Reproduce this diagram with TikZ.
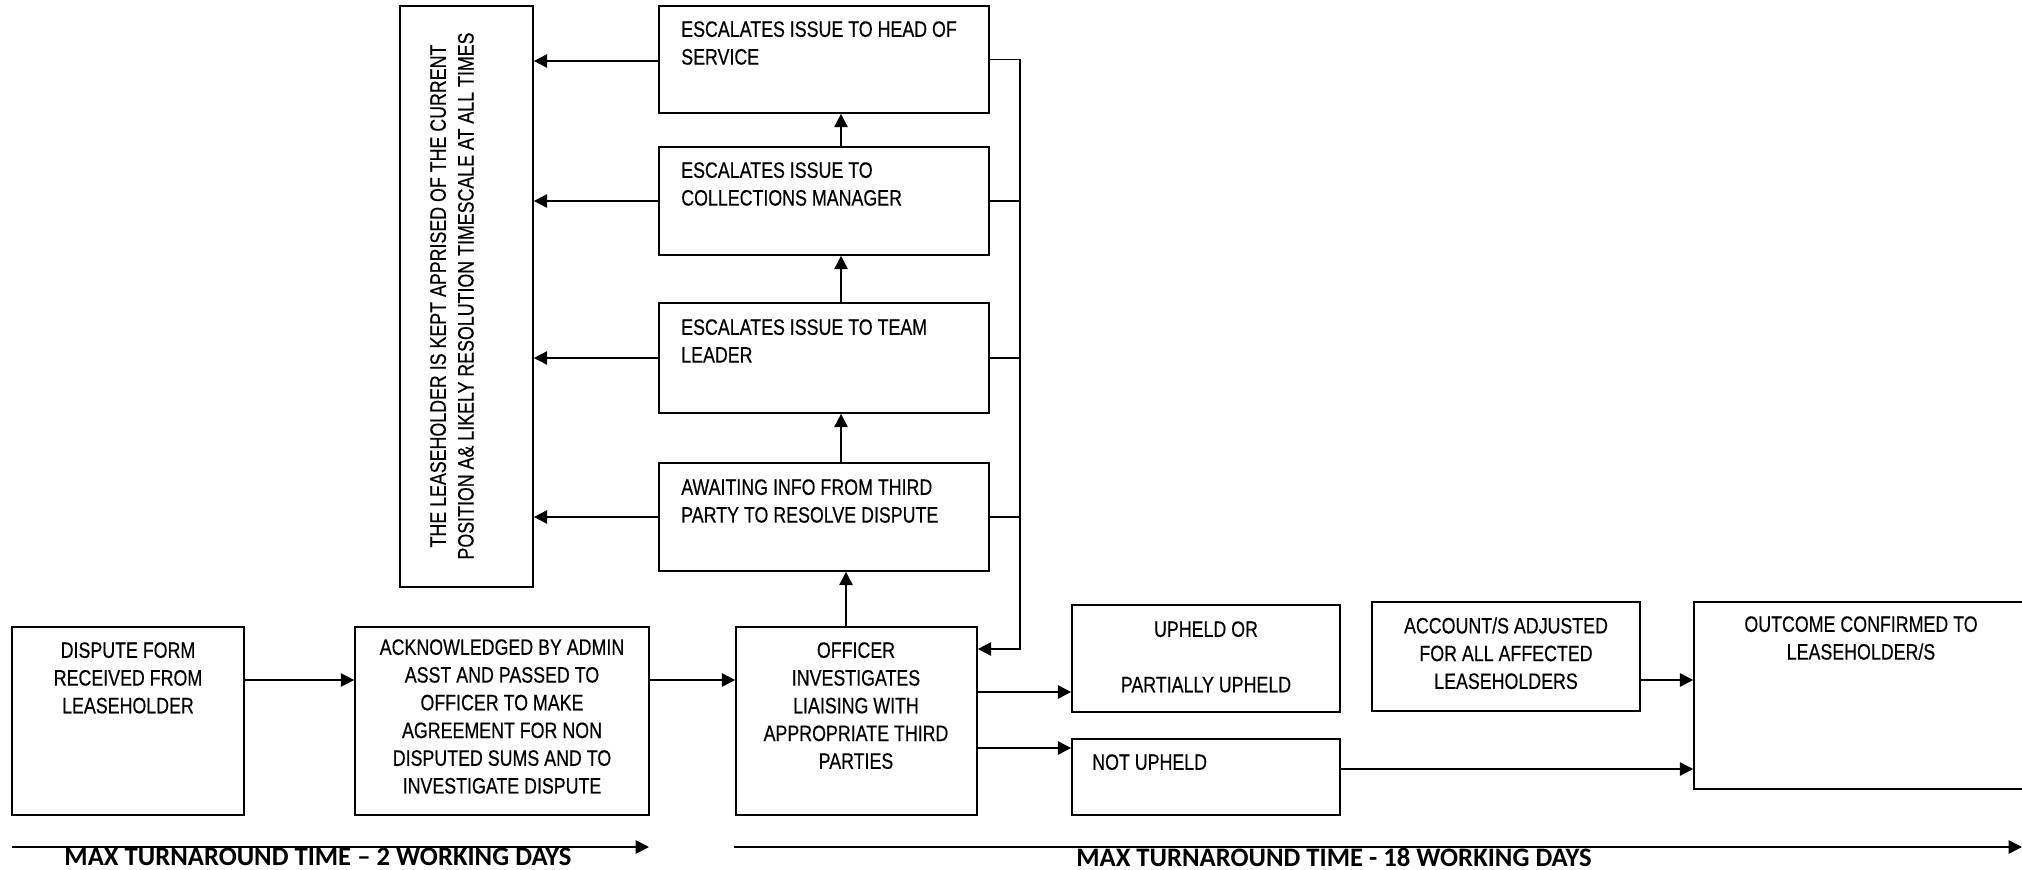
\documentclass[tikz,border=0pt]{standalone}
\usepackage{fontspec}
\setmainfont[FakeStretch=0.8,FakeBold=0.4]{Liberation Sans}
\newfontfamily\tlfont{Carlito}
\usetikzlibrary{arrows.meta,fit,calc}
\tikzset{
  box/.style={draw, line width=1.2pt, inner sep=0pt, fill=white},
  txt/.style={inner sep=0pt, font=\fontsize{16.7pt}{20.8pt}\selectfont, align=center},
  ltxt/.style={inner sep=0pt, font=\fontsize{16.7pt}{20.8pt}\selectfont, align=left},
  arr/.style={line width=1.2pt, -{Triangle[length=10pt,width=10pt]}},
  ln/.style={line width=1.2pt},
  tl/.style={inner sep=0pt, font=\tlfont\bfseries\fontsize{20pt}{24pt}\selectfont}
}
\begin{document}
\begin{tikzpicture}[x=0.75pt,y=-0.75pt]
\useasboundingbox (0,0) rectangle (2022,870);
\clip (0,0) rectangle (2022,870);
% boxes
\node[box, fit={(400,6) (533,587)}] (tall) {};
\node[box, fit={(659,6) (989,113)}] (head) {};
\node[box, fit={(659,147) (989,255)}] (coll) {};
\node[box, fit={(659,303) (989,413)}] (team) {};
\node[box, fit={(659,463) (989,571)}] (await) {};
\node[box, fit={(12,627) (244,815)}] (dispute) {};
\node[box, fit={(355,627) (649,815)}] (ack) {};
\node[box, fit={(736,627) (977,815)}] (officer) {};
\node[box, fit={(1072,605) (1340,712)}] (upheld) {};
\node[box, fit={(1072,739) (1340,815)}] (notup) {};
\node[box, fit={(1372,602) (1640,711)}] (accounts) {};
\node[box, fit={(1694,602) (2040,789)}] (outcome) {};
% texts
\node[txt, rotate=90] (tall-t) at (452,296) {THE LEASEHOLDER IS KEPT APPRISED OF THE CURRENT\\POSITION A\& LIKELY RESOLUTION TIMESCALE AT ALL TIMES};
\node[ltxt, anchor=north west] (head-t) at (681,21) {ESCALATES ISSUE TO HEAD OF\\SERVICE};
\node[ltxt, anchor=north west] (coll-t) at (681,162) {ESCALATES ISSUE TO\\COLLECTIONS MANAGER};
\node[ltxt, anchor=north west] (team-t) at (681,319) {ESCALATES ISSUE TO TEAM\\LEADER};
\node[ltxt, anchor=north west] (await-t) at (681,479) {AWAITING INFO FROM THIRD\\PARTY TO RESOLVE DISPUTE};
\node[txt, anchor=north] (dispute-t) at (128,642) {DISPUTE FORM\\RECEIVED FROM\\LEASEHOLDER};
\node[txt, anchor=north] (ack-t) at (502,639) {ACKNOWLEDGED BY ADMIN\\ASST AND PASSED TO\\OFFICER TO MAKE\\AGREEMENT FOR NON\\DISPUTED SUMS AND TO\\INVESTIGATE DISPUTE};
\node[txt, anchor=north] (officer-t) at (856,642) {OFFICER\\INVESTIGATES\\LIAISING WITH\\APPROPRIATE THIRD\\PARTIES};
\node[txt, anchor=north] (upheld-t) at (1206,621) {UPHELD OR\\[20.8pt]PARTIALLY UPHELD};
\node[ltxt, anchor=north west] (notup-t) at (1092,754) {NOT UPHELD};
\node[txt, anchor=north] (accounts-t) at (1506,617) {ACCOUNT/S ADJUSTED\\FOR ALL AFFECTED\\LEASEHOLDERS};
\node[txt, anchor=north] (outcome-t) at (1861,616) {OUTCOME CONFIRMED TO\\LEASEHOLDER/S};
% helper coordinates
\coordinate (v1) at (846,0);
\coordinate (v2) at (841,0);
\coordinate (bus) at (1020,0);
\coordinate (r0) at (0,61);
\coordinate (r1) at (0,680);
\coordinate (r2) at (0,692);
\coordinate (r3) at (0,748);
\coordinate (r4) at (0,769);
\coordinate (r5) at (0,649);
% vertical chain
\draw[arr] (officer.north -| v1) -- (await.south -| v1);
\draw[arr] (await.north -| v2) -- (team.south -| v2);
\draw[arr] (team.north -| v2) -- (coll.south -| v2);
\draw[arr] (coll.north -| v2) -- (head.south -| v2);
% to tall box
\draw[arr] (head.west |- r0) -- (tall.east |- r0);
\draw[arr] (coll.west) -- (tall.east |- coll.west);
\draw[arr] (team.west) -- (tall.east |- team.west);
\draw[arr] (await.west) -- (tall.east |- await.west);
% bus on right
\draw[ln] (head.east) -- (head.east -| bus);
\draw[ln] (coll.east) -- (coll.east -| bus);
\draw[ln] (team.east) -- (team.east -| bus);
\draw[ln] (await.east) -- (await.east -| bus);
\draw[arr] (head.east -| bus) -- (r5 -| bus) -- (officer.east |- r5);
% main flow
\draw[arr] (dispute.east |- r1) -- (ack.west |- r1);
\draw[arr] (ack.east |- r1) -- (officer.west |- r1);
\draw[arr] (officer.east |- r2) -- (upheld.west |- r2);
\draw[arr] (officer.east |- r3) -- (notup.west |- r3);
\draw[arr] (accounts.east |- r1) -- (outcome.west |- r1);
\draw[arr] (notup.east |- r4) -- (outcome.west |- r4);
% timelines
\coordinate (t1s) at (12,847);
\coordinate (t1e) at (649,847);
\coordinate (t2s) at (734,847);
\coordinate (t2e) at (2022,847);
\draw[arr] (t1s) -- (t1e);
\draw[arr] (t2s) -- (t2e);
\node[tl, anchor=north] (t1-t) at (318,848) {MAX TURNAROUND TIME – 2 WORKING DAYS};
\node[tl, anchor=north] (t2-t) at (1334,848) {MAX TURNAROUND TIME - 18 WORKING DAYS};
\end{tikzpicture}
\end{document}
